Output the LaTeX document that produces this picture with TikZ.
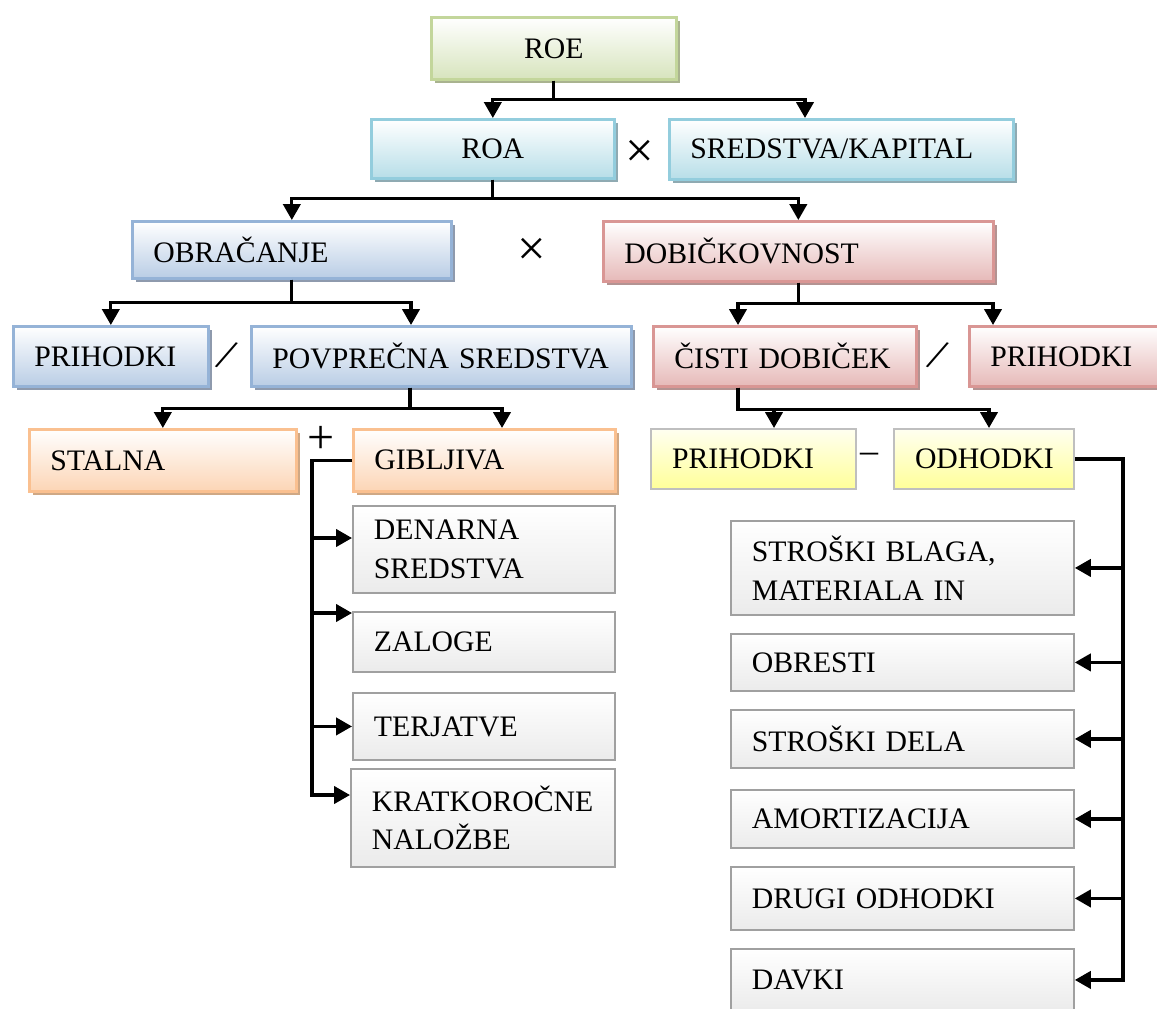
\documentclass[tikz,border=0pt]{standalone}
\usepackage{fontspec}
\setmainfont{Liberation Serif}
\usepackage{graphicx}
\usetikzlibrary{arrows.meta,shadows,calc}

% box palettes: border, lower fill, shadow
\definecolor{grnB}{HTML}{C3D69B}\definecolor{grnF}{HTML}{D7E4BD}\definecolor{grnS}{HTML}{A9B38F}
\definecolor{cyaB}{HTML}{93CDDD}\definecolor{cyaF}{HTML}{B7DEE8}\definecolor{cyaS}{HTML}{8FAAB2}
\definecolor{bluB}{HTML}{95B3D7}\definecolor{bluF}{HTML}{B9CDE5}\definecolor{bluS}{HTML}{8E9AAD}
\definecolor{redB}{HTML}{D99694}\definecolor{redF}{HTML}{E6B9B8}\definecolor{redS}{HTML}{B39392}
\definecolor{orgB}{HTML}{FAC090}\definecolor{orgF}{HTML}{FCD5B5}\definecolor{orgS}{HTML}{CFA885}
\definecolor{yelB}{HTML}{BFBFBF}\definecolor{yelT}{HTML}{FFFFF0}\definecolor{yelF}{HTML}{FFFF99}
\definecolor{gryB}{HTML}{A0A0A0}\definecolor{gryF}{HTML}{EBEBEB}

\tikzset{
  base/.style={rectangle, inner xsep=15.75pt, inner ysep=0pt,
    font=\fontsize{22.3}{29}\selectfont},
  colbox/.style n args={3}{base, draw=#1, line width=2pt,
    top color=white, bottom color=#2,
    drop shadow={shadow xshift=2.5pt, shadow yshift=-3pt, fill=#3, opacity=1}},
  greenbox/.style={colbox={grnB}{grnF}{grnS}},
  cyanbox/.style={colbox={cyaB}{cyaF}{cyaS}},
  bluebox/.style={colbox={bluB}{bluF}{bluS}},
  redbox/.style={colbox={redB}{redF}{redS}},
  orangebox/.style={colbox={orgB}{orgF}{orgS}},
  yellowbox/.style={base, draw=yelB, line width=1.5pt, top color=yelT, bottom color=yelF},
  graybox/.style={base, draw=gryB, line width=1.4pt, top color=white, bottom color=gryF},
  conn/.style={line width=2.4pt, draw=black},
  arr/.style={conn, -{Triangle[width=13pt,length=12pt]}},
  op/.style={inner sep=0pt},
}

% \flowbox[align]{name}{style}{x1}{y1}{x2}{y2}{text}
\newcommand\flowbox[8][left]{%
  \pgfmathsetmacro\fbw{(#6-#4)*0.75}%
  \pgfmathsetmacro\fbh{(#7-#5)*0.75}%
  \pgfmathsetmacro\fbt{(#6-#4-42)*0.75}%
  \node[#3, anchor=north west, minimum width=\fbw pt, minimum height=\fbh pt,
        text width=\fbt pt, align=#1] (#2) at (#4,#5) {#8};}

\begin{document}
\begin{tikzpicture}[x=0.75pt, y=-0.75pt]
\path[use as bounding box, fill=white] (0,0) rectangle (1157,1008);

% top levels
\flowbox[center]{roe}{greenbox}{430}{16}{675}{78}{ROE}
\flowbox[center]{roa}{cyanbox}{370}{118}{613}{177}{ROA}
\flowbox{sk}{cyanbox}{668}{118}{1012}{178}{SREDSTVA/KAPITAL}
\flowbox{obr}{bluebox}{131}{220}{450}{277}{OBRAČANJE}
\flowbox{dob}{redbox}{602}{220}{992}{280}{DOBIČKOVNOST}

% ratios
\flowbox{prb}{bluebox}{12}{325}{207}{385}{PRIHODKI}
\flowbox{pov}{bluebox}{250}{325}{630}{385}{POVPREČNA SREDSTVA}
\flowbox{cis}{redbox}{652}{325}{915}{385}{ČISTI DOBIČEK}
\flowbox{prr}{redbox}{968}{325}{1162}{385}{PRIHODKI}

% components
\flowbox{sta}{orangebox}{28}{428}{295}{490}{STALNA}
\flowbox{gib}{orangebox}{352}{428}{614}{490}{GIBLJIVA}
\flowbox{pry}{yellowbox}{650}{428}{855}{488}{PRIHODKI}
\flowbox{odh}{yellowbox}{893}{428}{1073}{488}{ODHODKI}

% current assets
\flowbox{den}{graybox}{352}{505}{614}{592}{DENARNA\\SREDSTVA}
\flowbox{zal}{graybox}{352}{611}{614}{671}{ZALOGE}
\flowbox{ter}{graybox}{352}{692}{614}{759}{TERJATVE}
\flowbox{kra}{graybox}{350}{768}{614}{866}{KRATKOROČNE\\NALOŽBE}

% expenses
\flowbox{sbm}{graybox}{730}{520}{1073}{614}{STROŠKI BLAGA,\\MATERIALA IN}
\flowbox{obe}{graybox}{730}{633}{1073}{690}{OBRESTI}
\flowbox{sde}{graybox}{730}{709}{1073}{767}{STROŠKI DELA}
\flowbox{amo}{graybox}{730}{789}{1073}{847}{AMORTIZACIJA}
\flowbox{dro}{graybox}{730}{866}{1073}{929}{DRUGI ODHODKI}
\flowbox{dav}{graybox}{730}{948}{1073}{1010}{DAVKI}

% operators
\node[op, font=\fontsize{38}{38}\selectfont] (mul1) at (640,154) {×};
\node[op, font=\fontsize{38}{38}\selectfont] (mul2) at (532,252) {×};
\node[op, font=\fontsize{34}{34}\selectfont] (div1) at (227,355) {\rotatebox{-22}{/}};
\node[op, font=\fontsize{34}{34}\selectfont] (div2) at (938,355) {\rotatebox{-22}{/}};
\node[op, font=\fontsize{36}{36}\selectfont] (plus) at (321,440) {+};
\node[op, font=\fontsize{27}{27}\selectfont] (minus) at (869,458) {–};

% tree connectors
\draw[arr] (roe.south) -- ++(0,19) -| (roa.north);
\draw[arr] (roe.south) -- ++(0,19) -| ($(sk.north west)+(137,0)$);
\draw[arr] (roa.south) -- ++(0,19) -| (obr.north);
\draw[arr] (roa.south) -- ++(0,19) -| (dob.north);
\draw[arr] (obr.south) -- ++(0,23) -| (prb.north);
\draw[arr] (obr.south) -- ++(0,23) -| ($(pov.north west)+(161,0)$);
\draw[arr] (dob.south) -- ++(0,21) -| ($(cis.north west)+(86,0)$);
\draw[arr] (dob.south) -- ++(0,21) -| ($(prr.north west)+(25,0)$);
\draw[arr] ($(pov.south west)+(160,0)$) -- ++(0,21) -| (sta.north);
\draw[arr] ($(pov.south west)+(160,0)$) -- ++(0,21) -| ($(gib.north west)+(150,0)$);
\draw[arr] ($(cis.south west)+(86,0)$) -- ++(0,22) -| ($(pry.north west)+(124,0)$);
\draw[arr] ($(cis.south west)+(86,0)$) -- ++(0,22) -| ($(odh.north west)+(96,0)$);

% current asset branches
\coordinate (gj) at ($(gib.west)+(-40,0)$);
\coordinate (da) at ($(den.north west)+(0,33)$);
\coordinate (za) at ($(zal.north west)+(0,2)$);
\coordinate (ka) at ($(kra.north west)+(0,27)$);
\draw[arr] (gib.west) -- (gj) |- (ka);
\draw[arr] (gj |- da) -- (da);
\draw[arr] (gj |- za) -- (za);
\draw[arr] (gj |- ter.west) -- (ter.west);

% expense branches
\coordinate (oj) at ($(odh.east)+(48,0)$);
\draw[arr] (odh.east) -- (oj) |- (dav.east);
\draw[arr] (oj |- sbm.east) -- (sbm.east);
\draw[arr] (oj |- obe.east) -- (obe.east);
\draw[arr] (oj |- sde.east) -- (sde.east);
\draw[arr] (oj |- amo.east) -- (amo.east);
\draw[arr] (oj |- dro.east) -- (dro.east);
\end{tikzpicture}
\end{document}
